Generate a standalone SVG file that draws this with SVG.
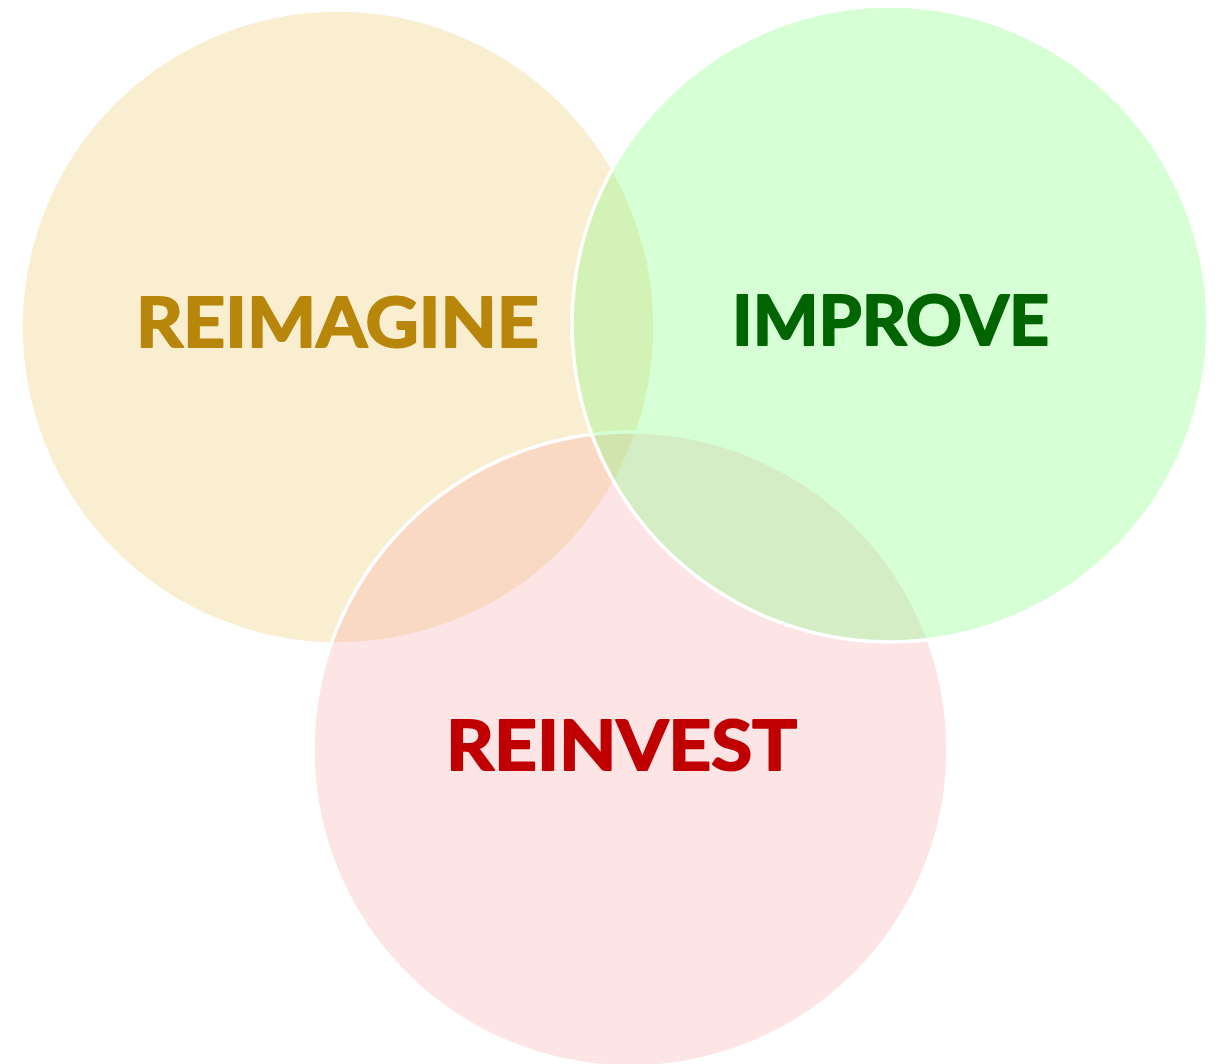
<svg xmlns="http://www.w3.org/2000/svg" width="1222" height="1064" viewBox="0 0 1222 1064">
<style>
.c{stroke:#ffffff;stroke-width:3.5}
.t{font-family:"Lato","Liberation Sans",sans-serif;font-weight:bold;font-size:69px;text-anchor:middle;stroke-width:2;stroke-linejoin:round}
</style>
<rect width="1222" height="1064" fill="#ffffff"/>
<g id="reimagine">
<circle class="c" cx="338" cy="327" r="317" fill="rgb(235,198,98)" fill-opacity="0.3"/>
</g>
<g id="reinvest">
<circle class="c" cx="630.5" cy="749.5" r="317.5" fill="rgb(250,170,170)" fill-opacity="0.3"/>
</g>
<g id="improve">
<circle class="c" cx="890" cy="324" r="318" fill="rgb(118,255,118)" fill-opacity="0.3"/>
</g>
<g id="labels">
<text class="t" x="337.5" y="347" fill="#B8860B" stroke="#B8860B" textLength="403" lengthAdjust="spacingAndGlyphs">REIMAGINE</text>
<text class="t" x="890.5" y="345" fill="#006400" stroke="#006400" textLength="317" lengthAdjust="spacingAndGlyphs">IMPROVE</text>
<text class="t" x="621.5" y="770" fill="#C00000" stroke="#C00000" textLength="351" lengthAdjust="spacingAndGlyphs">REINVEST</text>
</g>
<g id="connectors"></g>
</svg>
